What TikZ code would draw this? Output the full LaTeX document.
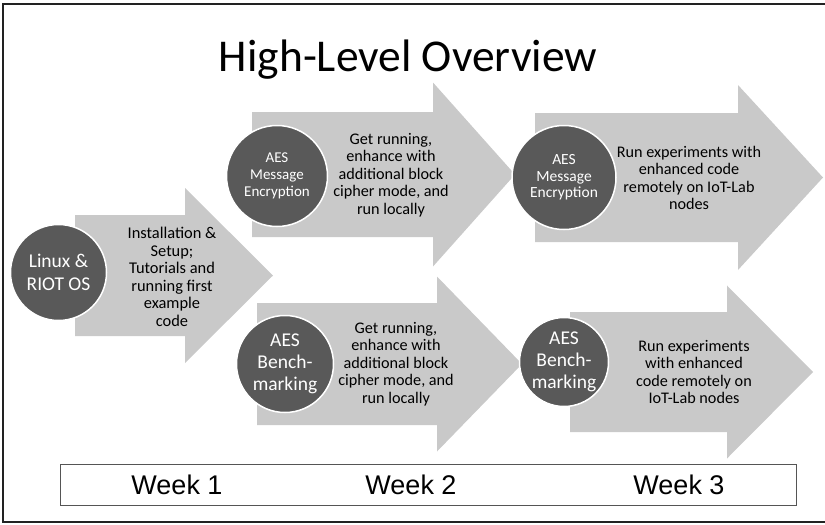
\documentclass[tikz,border=0pt]{standalone}
\usepackage{fontspec}
\setmainfont{Carlito}
\newfontfamily\arialfont{Liberation Sans}
\definecolor{arrowgray}{HTML}{C9C9C9}
\definecolor{circgray}{HTML}{595959}
\definecolor{framegray}{HTML}{222222}
\definecolor{boxgray}{HTML}{555555}
\newcommand\fatarrow[6]{\fill[arrowgray] (#1,#4-#5) -- (#2,#4-#5) -- (#2,#4-#6) -- (#3,#4) -- (#2,#4+#6) -- (#2,#4+#5) -- (#1,#4+#5) -- cycle;}
\begin{document}
\begin{tikzpicture}[x=1pt,y=-1pt,
  circ/.style={circle, fill=circgray, draw=white, line width=1.5pt, minimum size=#1, inner sep=0pt, text=white, align=center},
  desc/.style={align=center, inner sep=0pt, text=black, font=\fontsize{16.2}{17.4}\selectfont},
  week/.style={inner sep=0pt, text=black, font=\arialfont\fontsize{27}{30}\selectfont}
]
\useasboundingbox (0,0) rectangle (825,525);
% frame
\draw[framegray, line width=2pt] (826,4) -- (3,4) -- (3,522) -- (826,522);
% title
\node[font=\fontsize{45.5}{54}\selectfont] (title) at (408,60) {High-Level Overview};
% arrows
\fatarrow{75}{185}{273}{275.5}{60.5}{87.5}
\fatarrow{252}{433}{515}{174.5}{62.5}{92}
\fatarrow{535}{738}{823}{177.5}{64.5}{92.5}
\fatarrow{257}{437}{522}{364}{61}{87.5}
\fatarrow{570}{727}{813}{372}{60}{86.5}
% circles
\node[circ=96pt, font=\fontsize{19.5}{23}\selectfont] (c1) at (58.5,272.5) {Linux \&\\RIOT OS};
\node[circ=101pt, font=\fontsize{15}{16.7}\selectfont] (c2) at (277,176) {AES\\Message\\Encryption};
\node[circ=104pt, font=\fontsize{15.5}{16.7}\selectfont] (c3) at (564,177.5) {AES\\Message\\Encryption};
\node[circ=97pt, font=\fontsize{19.5}{21.7}\selectfont] (c4) at (285,364) {AES\\Bench-\\marking};
\node[circ=89pt, font=\fontsize{19.5}{21.7}\selectfont] (c5) at (564,362) {AES\\Bench-\\marking};
% descriptions
\node[desc, font=\fontsize{16.4}{17.5}\selectfont] (t1) at (172,277) {Installation \&\\Setup;\\Tutorials and\\running first\\example\\code};
\node[desc] (t2) at (391,175) {Get running,\\enhance with\\additional block\\cipher mode, and\\run locally};
\node[desc] (t3) at (689,178) {Run experiments with\\enhanced code\\remotely on IoT-Lab\\nodes};
\node[desc] (t4) at (396,364) {Get running,\\enhance with\\additional block\\cipher mode, and\\run locally};
\node[desc] (t5) at (694,372) {Run experiments\\with enhanced\\code remotely on\\IoT-Lab nodes};
% week bar
\draw[boxgray, line width=1pt, fill=white] (60,464) rectangle (796,505);
\node[week] (w1) at (177,484.5) {Week 1};
\node[week] (w2) at (411,484.5) {Week 2};
\node[week] (w3) at (679,484.5) {Week 3};
\end{tikzpicture}
\end{document}
